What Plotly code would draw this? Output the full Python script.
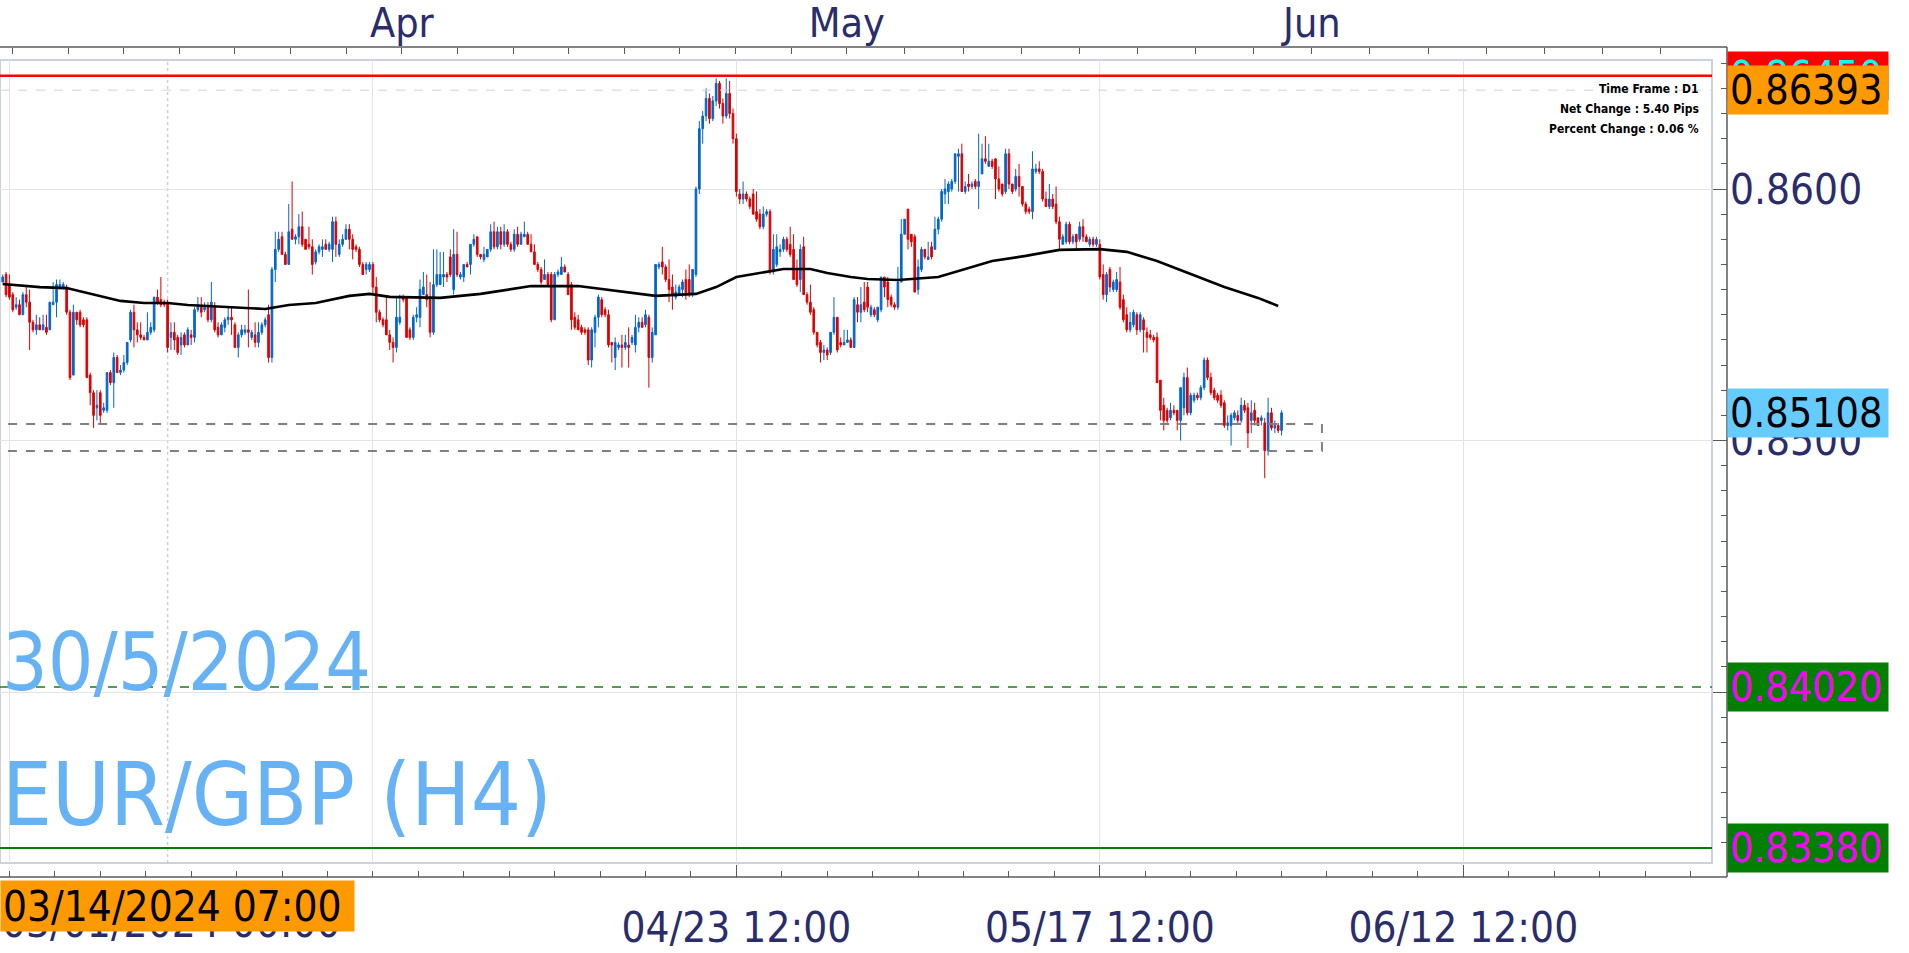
import plotly.graph_objects as go

# ---------------- data (prices in pips: 8563 -> 0.8563) ----------------
OPEN_PIPS = [
    8563, 8566, 8562, 8558, 8553, 8554, 8550, 8558, 8555, 8547,
    8544, 8546, 8544, 8545, 8544, 8554, 8555, 8561, 8561, 8561,
    8551, 8526, 8551, 8551, 8548, 8548, 8526, 8519, 8513, 8519,
    8512, 8512, 8527, 8523, 8533, 8527, 8528, 8531, 8540, 8551,
    8544, 8542, 8541, 8540, 8543, 8544, 8557, 8556, 8555, 8555,
    8541, 8543, 8541, 8538, 8542, 8538, 8542, 8541, 8552, 8553,
    8552, 8553, 8548, 8553, 8545, 8542, 8545, 8548, 8549, 8546,
    8537, 8542, 8543, 8544, 8541, 8542, 8539, 8543, 8546, 8550,
    8533, 8568, 8576, 8581, 8574, 8570, 8584, 8580, 8581, 8585,
    8580, 8578, 8577, 8571, 8575, 8576, 8578, 8576, 8576, 8587,
    8574, 8578, 8580, 8584, 8580, 8577, 8576, 8570, 8568, 8568,
    8570, 8561, 8551, 8548, 8548, 8542, 8539, 8537, 8547, 8557,
    8557, 8544, 8541, 8549, 8549, 8558, 8558, 8557, 8543, 8562,
    8562, 8565, 8566, 8573, 8560, 8574, 8565, 8565, 8570, 8570,
    8578, 8581, 8574, 8572, 8573, 8576, 8583, 8577, 8583, 8578,
    8583, 8578, 8576, 8582, 8578, 8581, 8582, 8578, 8575, 8570,
    8568, 8564, 8566, 8566, 8548, 8566, 8566, 8569, 8566, 8562,
    8549, 8548, 8545, 8544, 8544, 8532, 8543, 8549, 8556, 8552,
    8550, 8539, 8533, 8537, 8538, 8537, 8538, 8539, 8538, 8545,
    8547, 8546, 8549, 8533, 8542, 8569, 8571, 8569, 8564, 8561,
    8557, 8558, 8560, 8564, 8564, 8558, 8566, 8600, 8624, 8629,
    8636, 8628, 8635, 8642, 8634, 8629, 8638, 8630, 8620, 8598,
    8596, 8598, 8596, 8598, 8591, 8590, 8585, 8590, 8591, 8567,
    8570, 8575, 8576, 8580, 8578, 8576, 8568, 8564, 8577, 8558,
    8555, 8552, 8543, 8539, 8535, 8536, 8535, 8543, 8549, 8539,
    8538, 8539, 8540, 8537, 8554, 8551, 8555, 8561, 8550, 8552,
    8548, 8552, 8565, 8563, 8557, 8554, 8553, 8563, 8582, 8592,
    8582, 8581, 8560, 8568, 8576, 8572, 8577, 8576, 8584, 8588,
    8598, 8599, 8600, 8603, 8613, 8614, 8599, 8602, 8601, 8603,
    8601, 8606, 8612, 8609, 8611, 8612, 8604, 8602, 8599, 8614,
    8602, 8600, 8605, 8601, 8594, 8592, 8591, 8607, 8608, 8607,
    8596, 8593, 8596, 8594, 8587, 8578, 8579, 8586, 8579, 8582,
    8580, 8585, 8581, 8578, 8580, 8578, 8578, 8566, 8558, 8568,
    8560, 8560, 8563, 8556, 8550, 8544, 8546, 8550, 8544, 8548,
    8543, 8542, 8541, 8541, 8524, 8514, 8512, 8509, 8512, 8512,
    8508, 8513, 8525, 8511, 8516, 8518, 8517, 8521, 8532, 8525,
    8520, 8518, 8518, 8515, 8506, 8506, 8509, 8510, 8508, 8514,
    8513, 8508, 8512, 8509, 8508, 8507, 8496, 8511, 8505, 8506, 8504,
]
HIGH_PIPS = [
    8566, 8567, 8566, 8559, 8557, 8556, 8559, 8561, 8560, 8548,
    8550, 8549, 8550, 8550, 8555, 8563, 8564, 8564, 8563, 8562,
    8552, 8554, 8551, 8552, 8549, 8549, 8527, 8520, 8520, 8520,
    8515, 8527, 8528, 8535, 8534, 8530, 8534, 8539, 8552, 8554,
    8547, 8547, 8542, 8551, 8547, 8557, 8560, 8565, 8556, 8556,
    8547, 8547, 8542, 8543, 8543, 8545, 8544, 8553, 8557, 8557,
    8555, 8555, 8563, 8555, 8547, 8547, 8549, 8553, 8553, 8547,
    8543, 8546, 8546, 8560, 8544, 8547, 8547, 8547, 8549, 8554,
    8569, 8583, 8583, 8583, 8575, 8594, 8603, 8582, 8590, 8591,
    8580, 8585, 8580, 8576, 8578, 8580, 8580, 8579, 8589, 8589,
    8580, 8582, 8586, 8586, 8582, 8578, 8577, 8571, 8571, 8571,
    8571, 8565, 8552, 8549, 8557, 8544, 8541, 8557, 8558, 8558,
    8557, 8545, 8550, 8553, 8564, 8567, 8566, 8563, 8576, 8576,
    8575, 8575, 8567, 8576, 8584, 8583, 8567, 8570, 8571, 8578,
    8582, 8581, 8574, 8577, 8576, 8586, 8587, 8585, 8585, 8586,
    8584, 8579, 8584, 8585, 8583, 8587, 8583, 8582, 8578, 8571,
    8569, 8572, 8567, 8567, 8567, 8568, 8573, 8570, 8567, 8563,
    8551, 8550, 8546, 8545, 8545, 8545, 8550, 8558, 8557, 8553,
    8552, 8539, 8541, 8539, 8542, 8542, 8545, 8542, 8550, 8549,
    8549, 8552, 8550, 8545, 8570, 8571, 8577, 8570, 8572, 8566,
    8562, 8562, 8564, 8568, 8570, 8568, 8601, 8627, 8631, 8640,
    8638, 8637, 8644, 8643, 8636, 8644, 8643, 8632, 8622, 8600,
    8603, 8599, 8597, 8600, 8599, 8592, 8593, 8592, 8592, 8582,
    8582, 8578, 8581, 8581, 8585, 8582, 8572, 8578, 8581, 8559,
    8562, 8553, 8543, 8540, 8538, 8537, 8543, 8557, 8549, 8541,
    8544, 8544, 8541, 8557, 8557, 8561, 8563, 8563, 8554, 8553,
    8553, 8565, 8565, 8565, 8558, 8555, 8569, 8588, 8588, 8592,
    8582, 8582, 8572, 8577, 8576, 8579, 8579, 8589, 8589, 8600,
    8604, 8603, 8604, 8614, 8616, 8618, 8603, 8606, 8603, 8604,
    8622, 8618, 8621, 8618, 8612, 8612, 8609, 8602, 8616, 8616,
    8602, 8608, 8610, 8601, 8595, 8593, 8615, 8610, 8611, 8608,
    8599, 8602, 8598, 8601, 8589, 8582, 8587, 8587, 8582, 8582,
    8587, 8588, 8582, 8581, 8581, 8581, 8580, 8570, 8567, 8569,
    8564, 8567, 8569, 8558, 8553, 8551, 8552, 8551, 8551, 8549,
    8545, 8544, 8542, 8543, 8524, 8517, 8513, 8515, 8514, 8512,
    8521, 8527, 8529, 8519, 8519, 8519, 8522, 8533, 8533, 8527,
    8521, 8519, 8520, 8516, 8510, 8511, 8512, 8512, 8517, 8516,
    8515, 8516, 8515, 8509, 8510, 8509, 8517, 8513, 8508, 8507, 8512,
]
LOW_PIPS = [
    8563, 8557, 8556, 8551, 8552, 8550, 8550, 8553, 8536, 8543,
    8542, 8544, 8544, 8542, 8544, 8554, 8549, 8560, 8560, 8550,
    8524, 8526, 8546, 8545, 8545, 8525, 8514, 8505, 8508, 8507,
    8511, 8511, 8522, 8513, 8527, 8526, 8527, 8530, 8539, 8537,
    8539, 8540, 8540, 8540, 8542, 8543, 8554, 8553, 8553, 8535,
    8536, 8536, 8534, 8534, 8537, 8538, 8538, 8539, 8551, 8549,
    8551, 8547, 8547, 8543, 8541, 8542, 8543, 8546, 8542, 8537,
    8533, 8541, 8542, 8537, 8540, 8537, 8537, 8542, 8545, 8531,
    8531, 8563, 8575, 8574, 8570, 8570, 8580, 8578, 8578, 8577,
    8576, 8576, 8566, 8570, 8574, 8573, 8576, 8575, 8571, 8573,
    8573, 8577, 8580, 8576, 8572, 8575, 8569, 8566, 8566, 8567,
    8558, 8547, 8547, 8545, 8542, 8536, 8531, 8535, 8546, 8555,
    8541, 8540, 8540, 8547, 8545, 8558, 8553, 8541, 8542, 8561,
    8562, 8561, 8563, 8565, 8558, 8565, 8564, 8563, 8569, 8566,
    8577, 8573, 8572, 8571, 8573, 8575, 8576, 8576, 8576, 8577,
    8577, 8575, 8575, 8577, 8578, 8581, 8578, 8575, 8570, 8567,
    8562, 8564, 8561, 8547, 8548, 8565, 8566, 8567, 8558, 8544,
    8544, 8544, 8542, 8542, 8530, 8529, 8537, 8545, 8549, 8549,
    8537, 8531, 8528, 8536, 8529, 8536, 8529, 8538, 8535, 8543,
    8545, 8545, 8521, 8531, 8542, 8568, 8566, 8563, 8555, 8552,
    8556, 8558, 8557, 8556, 8557, 8557, 8565, 8598, 8618, 8627,
    8626, 8627, 8633, 8632, 8626, 8628, 8628, 8618, 8597, 8594,
    8594, 8595, 8592, 8590, 8587, 8584, 8584, 8589, 8566, 8566,
    8569, 8573, 8575, 8575, 8573, 8564, 8561, 8559, 8558, 8554,
    8550, 8542, 8537, 8531, 8532, 8532, 8534, 8542, 8535, 8537,
    8538, 8539, 8537, 8537, 8547, 8547, 8551, 8551, 8549, 8549,
    8547, 8551, 8557, 8553, 8553, 8552, 8552, 8563, 8582, 8576,
    8577, 8559, 8558, 8567, 8572, 8572, 8572, 8576, 8582, 8587,
    8594, 8594, 8599, 8602, 8599, 8599, 8598, 8599, 8600, 8600,
    8592, 8606, 8610, 8609, 8608, 8596, 8599, 8597, 8598, 8600,
    8598, 8599, 8597, 8593, 8590, 8590, 8588, 8606, 8606, 8595,
    8593, 8592, 8592, 8586, 8576, 8578, 8578, 8578, 8578, 8576,
    8579, 8579, 8579, 8577, 8577, 8577, 8564, 8556, 8555, 8559,
    8559, 8559, 8552, 8547, 8543, 8543, 8545, 8542, 8543, 8535,
    8535, 8540, 8539, 8523, 8508, 8504, 8507, 8508, 8510, 8504,
    8500, 8510, 8510, 8510, 8515, 8516, 8516, 8520, 8524, 8518,
    8516, 8515, 8513, 8505, 8504, 8498, 8508, 8507, 8507, 8511,
    8497, 8503, 8506, 8506, 8506, 8485, 8494, 8504, 8503, 8503, 8502,
]
CLOSE_PIPS = [
    8565, 8558, 8557, 8552, 8554, 8550, 8558, 8555, 8547, 8544,
    8546, 8544, 8546, 8543, 8555, 8555, 8562, 8562, 8562, 8551,
    8525, 8551, 8548, 8546, 8546, 8525, 8519, 8510, 8514, 8510,
    8513, 8527, 8523, 8533, 8527, 8528, 8531, 8539, 8551, 8544,
    8542, 8541, 8540, 8543, 8545, 8557, 8555, 8554, 8554, 8537,
    8543, 8540, 8535, 8541, 8538, 8544, 8541, 8552, 8554, 8551,
    8553, 8548, 8555, 8544, 8542, 8546, 8548, 8549, 8548, 8537,
    8542, 8544, 8544, 8543, 8543, 8539, 8543, 8546, 8548, 8533,
    8568, 8576, 8580, 8574, 8570, 8583, 8580, 8581, 8585, 8578,
    8576, 8577, 8570, 8575, 8577, 8577, 8576, 8578, 8587, 8578,
    8578, 8580, 8584, 8580, 8576, 8576, 8570, 8566, 8570, 8570,
    8561, 8551, 8548, 8546, 8542, 8539, 8537, 8549, 8549, 8556,
    8541, 8541, 8549, 8550, 8560, 8561, 8556, 8543, 8562, 8566,
    8566, 8566, 8565, 8566, 8574, 8566, 8566, 8570, 8569, 8578,
    8580, 8574, 8573, 8574, 8576, 8583, 8577, 8583, 8578, 8583,
    8578, 8576, 8582, 8578, 8582, 8582, 8578, 8575, 8570, 8568,
    8563, 8566, 8562, 8548, 8566, 8567, 8569, 8567, 8558, 8548,
    8545, 8544, 8543, 8543, 8532, 8544, 8549, 8557, 8550, 8550,
    8538, 8538, 8539, 8538, 8537, 8539, 8537, 8541, 8545, 8547,
    8545, 8550, 8533, 8543, 8570, 8570, 8569, 8564, 8560, 8558,
    8559, 8561, 8563, 8558, 8558, 8568, 8600, 8624, 8629, 8636,
    8628, 8635, 8642, 8634, 8629, 8638, 8630, 8620, 8599, 8596,
    8598, 8596, 8593, 8590, 8588, 8585, 8590, 8591, 8567, 8576,
    8577, 8576, 8580, 8576, 8574, 8564, 8562, 8576, 8558, 8555,
    8551, 8543, 8538, 8535, 8536, 8534, 8543, 8549, 8536, 8538,
    8539, 8540, 8537, 8556, 8551, 8554, 8552, 8553, 8553, 8550,
    8553, 8565, 8561, 8556, 8554, 8553, 8563, 8582, 8588, 8580,
    8579, 8559, 8569, 8576, 8573, 8573, 8573, 8584, 8588, 8599,
    8600, 8602, 8603, 8614, 8614, 8599, 8601, 8601, 8602, 8601,
    8603, 8612, 8611, 8611, 8609, 8604, 8600, 8598, 8614, 8602,
    8599, 8605, 8601, 8594, 8591, 8591, 8608, 8608, 8607, 8596,
    8593, 8596, 8593, 8587, 8580, 8581, 8586, 8579, 8581, 8579,
    8585, 8581, 8579, 8580, 8578, 8580, 8565, 8558, 8566, 8561,
    8563, 8564, 8553, 8548, 8544, 8547, 8551, 8544, 8550, 8544,
    8541, 8541, 8540, 8523, 8512, 8508, 8508, 8512, 8511, 8508,
    8521, 8525, 8511, 8518, 8518, 8517, 8521, 8532, 8525, 8519,
    8517, 8516, 8514, 8506, 8507, 8510, 8511, 8508, 8514, 8512,
    8503, 8511, 8508, 8506, 8509, 8496, 8511, 8505, 8506, 8504, 8511,
]

# moving average, read at selected bars (units of 0.00001)
MA_BARS = [0, 11, 19, 28, 35, 42, 49, 55, 68, 78,
           85, 93, 103, 109, 115, 130, 142, 157, 171, 186,
           194, 206, 212, 218, 226, 232, 240, 245, 252, 257,
           266, 278, 294, 304, 314, 326, 334, 343, 353, 363,
           373, 379]
MA_VALUES = [85622, 85610, 85606, 85579, 85555, 85547, 85547, 85539, 85531, 85523,
             85539, 85547, 85575, 85583, 85571, 85567, 85583, 85614, 85614, 85587,
             85575, 85583, 85610, 85650, 85670, 85682, 85682, 85666, 85650, 85642,
             85638, 85650, 85714, 85734, 85758, 85761, 85750, 85714, 85662, 85610,
             85567, 85535]

# horizontal levels
RESISTANCE = 0.86450
HIGH_MARK = 0.86393
LAST_PRICE = 0.85108
SUPPORT_1 = 0.84020
SUPPORT_2 = 0.83380
ZONE_TOP = 0.85066
ZONE_BOTTOM = 0.84958
ZONE_END_BAR = 392.0

RIGHT_LABELS = [
    ("0.86450", RESISTANCE, "#FF0000", "#00FFFF"),
    ("0.86393", HIGH_MARK, "#FF9900", "#000000"),
    ("0.85108", LAST_PRICE, "#66CCFF", "#000000"),
    ("0.84020", SUPPORT_1, "#007F00", "#FF00FF"),
    ("0.83380", SUPPORT_2, "#007F00", "#FF00FF"),
]

# axes
X_RANGE = [-0.8, 507.9]
Y_RANGE = [0.833201, 0.865129]
BOTTOM_TICKS = [2, 110, 218, 326, 434]
BOTTOM_LABELS = ["", "", "04/23 12:00", "05/17 12:00", "06/12 12:00"]
MONTH_TICKS = [118.6, 250.8, 389.0]
MONTH_LABELS = ["Apr", "May", "Jun"]
Y_TICKS = [0.84, 0.85, 0.86]
Y_LABELS = ["0.8400", "0.8500", "0.8600"]
CROSSHAIR_BAR = 49.0
CROSSHAIR_LABEL = "03/14/2024 07:00"
FIRST_DATE_LABEL = "03/01/2024 00:00"
INFO_LINES = ["Time Frame : D1", "Net Change : 5.40 Pips", "Percent Change : 0.06 %"]

# ---------------- layout geometry (pixels) ----------------
W, H = 1909, 953
AX_RIGHT = 1727      # y-axis line
PLOT_RIGHT = 1712    # plot border
AX_TOP, AX_BOTTOM = 47, 877
PLOT_TOP, PLOT_BOTTOM = 60, 863
PAPER_H = AX_BOTTOM - AX_TOP


def fx(px):
    return px / AX_RIGHT


def fy(py):
    return (AX_BOTTOM - py) / PAPER_H


NAVY = "#2b2d6b"
BLUE = "#0066CC"
RED = "#DD0000"
GRID = "#e4e4e4"
AXC = "#5a5a5a"
COND = "DejaVu Sans Condensed, Liberation Sans Narrow, DejaVu Sans, sans-serif"
BIG = "Liberation Sans Narrow, DejaVu Sans Condensed, sans-serif"
BIG_COLOR = "#66B2F5"

x_idx = list(range(len(CLOSE_PIPS)))

fig = go.Figure()

fig.add_trace(go.Candlestick(
    x=x_idx,
    open=[v / 10000 for v in OPEN_PIPS],
    high=[v / 10000 for v in HIGH_PIPS],
    low=[v / 10000 for v in LOW_PIPS],
    close=[v / 10000 for v in CLOSE_PIPS],
    increasing=dict(line=dict(color=BLUE, width=1), fillcolor=BLUE),
    decreasing=dict(line=dict(color=RED, width=1), fillcolor=RED),
    whiskerwidth=0,
    hoverinfo="skip",
    showlegend=False,
))

fig.add_trace(go.Scatter(
    x=MA_BARS, y=[v / 100000 for v in MA_VALUES],
    mode="lines", line=dict(color="#000000", width=2.6),
    hoverinfo="skip", showlegend=False,
))

# month markers on the top axis
fig.add_trace(go.Scatter(
    x=MONTH_TICKS, y=[Y_RANGE[1] + 8 / 25150] * len(MONTH_TICKS),
    xaxis="x2", yaxis="y",
    mode="markers", marker=dict(symbol="triangle-down", size=10, color="#F5A623"),
    cliponaxis=False, hoverinfo="skip", showlegend=False,
))

shapes = []
# plot border
shapes.append(dict(type="rect", xref="paper", yref="paper",
                   x0=0, x1=fx(PLOT_RIGHT), y0=fy(PLOT_BOTTOM), y1=fy(PLOT_TOP),
                   line=dict(color="#c9d2de", width=2), layer="below"))
# crosshair
shapes.append(dict(type="line", xref="x", yref="paper", x0=CROSSHAIR_BAR, x1=CROSSHAIR_BAR,
                   y0=fy(PLOT_BOTTOM), y1=fy(PLOT_TOP),
                   line=dict(color="#cfcfcf", width=1.5, dash="dot"), layer="below"))
# horizontal levels
shapes.append(dict(type="line", xref="x domain", yref="y", x0=0, x1=1, y0=HIGH_MARK, y1=HIGH_MARK,
                   line=dict(color="#d4d4d4", width=1, dash="dash")))
shapes.append(dict(type="line", xref="x domain", yref="y", x0=0, x1=1, y0=RESISTANCE, y1=RESISTANCE,
                   line=dict(color="#FF0000", width=2.5)))
shapes.append(dict(type="line", xref="x domain", yref="y", x0=0, x1=1, y0=SUPPORT_1, y1=SUPPORT_1,
                   line=dict(color="#1e7a1e", width=1.5, dash="dash")))
shapes.append(dict(type="line", xref="x domain", yref="y", x0=0, x1=1, y0=SUPPORT_2, y1=SUPPORT_2,
                   line=dict(color="#008000", width=2)))
# zone box
shapes.append(dict(type="rect", xref="x", yref="y", x0=X_RANGE[0] - 3, x1=ZONE_END_BAR,
                   y0=ZONE_BOTTOM, y1=ZONE_TOP,
                   line=dict(color="#808080", width=2, dash="dash")))
# axis lines
shapes.append(dict(type="line", xref="paper", yref="paper", x0=0, x1=1, y0=1, y1=1,
                   line=dict(color=AXC, width=1.5)))
shapes.append(dict(type="line", xref="paper", yref="paper", x0=0, x1=1, y0=0, y1=0,
                   line=dict(color=AXC, width=1.5)))
shapes.append(dict(type="line", xref="paper", yref="paper", x0=1, x1=1, y0=0, y1=1,
                   line=dict(color=AXC, width=1.5)))

annotations = []
for txt, val, bg, fg in RIGHT_LABELS:
    annotations.append(dict(
        xref="paper", yref="y", x=1.0, y=val, xanchor="left", yanchor="middle",
        text=txt, showarrow=False, bgcolor=bg, width=156, height=44, borderpad=2,
        align="left", font=dict(family=COND, size=41, color=fg)))

annotations.append(dict(
    xref="paper", yref="paper", x=0, y=fy(922), xanchor="left", yanchor="middle",
    text=FIRST_DATE_LABEL, showarrow=False, font=dict(family=COND, size=42, color=NAVY)))
annotations.append(dict(
    xref="paper", yref="paper", x=0, y=fy(906), xanchor="left", yanchor="middle",
    text=CROSSHAIR_LABEL, showarrow=False, bgcolor="#FF9900", width=349, height=46,
    borderpad=2, align="left", font=dict(family=COND, size=42, color="#000000")))

annotations.append(dict(
    xref="paper", yref="paper", x=0, y=fy(662), xanchor="left", yanchor="middle",
    text="30/5/2024", showarrow=False, font=dict(family=BIG, size=80, color=BIG_COLOR)))
annotations.append(dict(
    xref="paper", yref="paper", x=0, y=fy(794), xanchor="left", yanchor="middle",
    text="EUR/GBP (H4)", showarrow=False, font=dict(family=BIG, size=88, color=BIG_COLOR)))

for i, line in enumerate(INFO_LINES):
    annotations.append(dict(
        xref="paper", yref="paper", x=fx(1701), y=fy(89 + 20 * i), xanchor="right", yanchor="middle",
        text="<b>" + line + "</b>", showarrow=False,
        font=dict(family="DejaVu Sans Condensed, DejaVu Sans, sans-serif", size=12, color="#000000")))

# top-axis minor ticks: each month split into eight parts
step_apr = (MONTH_TICKS[1] - MONTH_TICKS[0]) / 8
step_may = (MONTH_TICKS[2] - MONTH_TICKS[1]) / 8
top_minor = [MONTH_TICKS[0] - step_apr * j for j in range(1, 9)]
top_minor += [MONTH_TICKS[0] + step_apr * j for j in range(1, 8)]
top_minor += [MONTH_TICKS[1] + step_may * j for j in range(1, 8)]
top_minor += [MONTH_TICKS[2] + step_may * j for j in range(1, 9)]
bottom_minor = [BOTTOM_TICKS[0] + 13.5 * j for j in range(0, 40)]

fig.update_layout(
    width=W, height=H,
    margin=dict(l=0, r=W - AX_RIGHT, t=AX_TOP, b=H - AX_BOTTOM, pad=0),
    paper_bgcolor="white", plot_bgcolor="white",
    showlegend=False, hovermode=False,
    xaxis=dict(
        domain=[0, fx(PLOT_RIGHT)], range=X_RANGE, anchor="free", position=0,
        rangeslider=dict(visible=False), showline=False, zeroline=False,
        tickmode="array", tickvals=BOTTOM_TICKS, ticktext=BOTTOM_LABELS,
        ticks="inside", ticklen=12, tickwidth=1, tickcolor=AXC,
        showgrid=True, gridcolor=GRID, gridwidth=1,
        tickfont=dict(family=COND, size=42, color=NAVY), ticklabelstandoff=22,
        minor=dict(tickmode="array", tickvals=bottom_minor, ticks="inside", ticklen=6,
                   tickcolor=AXC, showgrid=False),
    ),
    xaxis2=dict(
        overlaying="x", side="top", anchor="free", position=1, range=X_RANGE,
        showline=False, zeroline=False, showgrid=False,
        tickmode="array", tickvals=MONTH_TICKS, ticktext=MONTH_LABELS,
        ticks="inside", ticklen=6, tickwidth=1, tickcolor=AXC,
        tickfont=dict(family=COND, size=41, color=NAVY), ticklabelstandoff=2,
        minor=dict(tickmode="array", tickvals=top_minor, ticks="inside", ticklen=6,
                   tickcolor=AXC, showgrid=False),
    ),
    yaxis=dict(
        domain=[fy(PLOT_BOTTOM), fy(PLOT_TOP)], range=Y_RANGE, side="right",
        anchor="free", position=1.0, showline=False, zeroline=False,
        tickmode="array", tickvals=Y_TICKS, ticktext=Y_LABELS,
        ticks="inside", ticklen=14, tickwidth=1, tickcolor=AXC,
        showgrid=True, gridcolor=GRID, gridwidth=1,
        tickfont=dict(family=COND, size=42, color=NAVY), ticklabelstandoff=2,
        minor=dict(dtick=0.001, tick0=0, ticks="inside", ticklen=6, tickcolor=AXC, showgrid=False),
    ),
    shapes=shapes,
    annotations=annotations,
)

fig.write_html("out.html", config={"displayModeBar": False},
               post_script="document.body.style.margin='0';document.body.style.overflow='hidden';")
